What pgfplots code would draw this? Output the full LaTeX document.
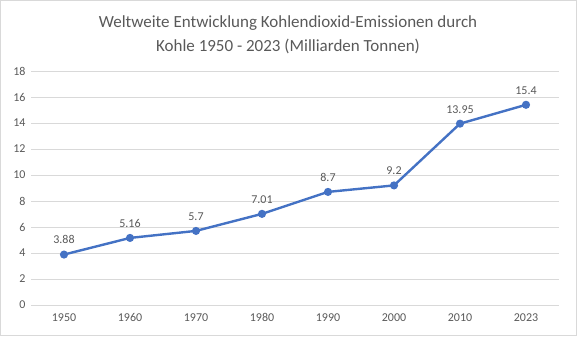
\documentclass[border=0pt]{standalone}
\usepackage{pgfplots}
\pgfplotsset{compat=1.18}
\usepackage{fontspec}
\setmainfont{Carlito}
\definecolor{txt}{HTML}{595959}
\definecolor{grd}{HTML}{D9D9D9}
\definecolor{ln}{HTML}{4472C4}
\begin{document}
\begin{tikzpicture}[x=1bp,y=1bp]
\useasboundingbox (0,0) rectangle (577,336);
\draw[draw=grd,line width=0.75bp] (0.4,0.4) rectangle (576.6,335.6);
\node[text=txt,align=center,font=\fontsize{17bp}{24bp}\selectfont] at (288,301) {Weltweite Entwicklung Kohlendioxid-Emissionen durch\\Kohle 1950 - 2023 (Milliarden Tonnen)};
\begin{axis}[
  at={(31bp,31bp)}, anchor=south west,
  width=528bp, height=234bp, scale only axis,
  xmin=-0.5, xmax=7.5, ymin=0, ymax=18,
  xtick={0,...,7},
  xticklabels={1950,1960,1970,1980,1990,2000,2010,2023},
  ytick={0,2,...,18},
  axis line style={draw=none},
  major tick length=0pt,
  ymajorgrids, grid style={grd, line width=0.75bp},
  tick label style={text=txt, font=\fontsize{12bp}{14bp}\selectfont},
  /pgf/number format/assume math mode=true,
  yticklabel style={xshift=-2bp},
  xticklabel style={yshift=-5bp},
  clip=false,
  nodes near coords,
  point meta=explicit symbolic,
  every node near coord/.append style={text=txt, font=\fontsize{12bp}{14bp}\selectfont, yshift=6bp},
]
\addplot[color=ln, line width=2.4bp, mark=*, mark size=2.8bp, mark options={fill=ln}]
 table[meta=l] {
x y l
0 3.88 3.88
1 5.16 5.16
2 5.7 5.7
3 7.01 7.01
4 8.7 8.7
5 9.2 9.2
6 13.95 13.95
7 15.4 15.4
};
\end{axis}
\end{tikzpicture}
\end{document}
